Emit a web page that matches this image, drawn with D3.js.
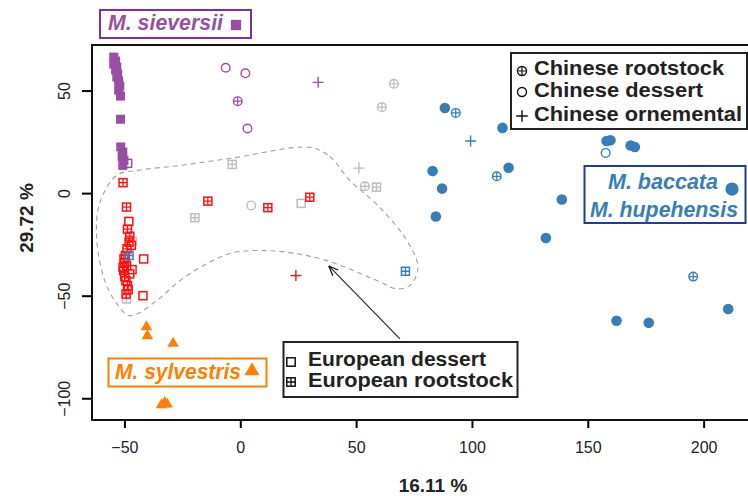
<!DOCTYPE html>
<html>
<head>
<meta charset="utf-8">
<script src="https://cdnjs.cloudflare.com/ajax/libs/d3/7.8.5/d3.min.js"></script>
<style>
  body { margin: 0; background: #fff; }
  svg { display: block; font-family: "Liberation Sans", Arial, sans-serif; }
</style>
</head>
<body>
<div id="chart"></div>
<script>
// PCA coordinates (PC1 16.11 %, PC2 29.72 %)
var xTicks = [-50, 0, 50, 100, 150, 200];
var yTicks = [-100, -50, 0, 50];

// M. sieversii (purple)
var sieversiiWild = [[-54.6,66.3],[-53.8,64.4],[-54.6,62.9],[-53.3,61.4],[-53.8,60.0],[-52.9,58.0],[-53.3,56.6],
  [-52.5,54.6],[-52.0,52.2],[-52.5,50.2],[-51.7,47.3],[-51.7,36.0],[-51.6,22.5],[-50.7,20.0],[-51.0,17.9],[-50.2,16.0],[-50.7,13.5]];
var sieversiiCnDessert = [[-6.3,61.1],[2.2,58.4],[3.1,31.5]];
var sieversiiCnRoot = [[-1.1,44.8]];
var sieversiiCnOrn = [[33.6,54.0]];
var sieversiiEuDessert = [[-48.6,14.5]];

// European cultivars (red)
var euRoot = [[-50.6,5.1],[-49.1,-6.8],[-48.7,-17.6],[-47.7,-21.0],[-48.0,-23.9],[-48.9,-27.2],[-49.6,-30.4],
  [-50.2,-32.1],[-49.9,-33.7],[-49.1,-35.3],[-50.6,-36.2],[-50.3,-37.8],[-49.9,-40.7],[-48.7,-45.1],[-48.4,-47.1],
  [-49.3,-49.2],[-14.0,-3.9],[11.9,-7.1],[30.0,-2.0]];
var euDessert = [[-48.1,-13.8],[-41.7,-32.1],[-46.7,-37.3],[-47.7,-39.4],[-42.0,-50.0],[-49.4,-42.7],[-47.0,-25.5]];
var euOrn = [[24.0,-40.2]];

// unassigned (grey)
var greyEuRoot = [[-49.1,-51.6],[-19.6,-12.0],[58.8,2.9],[-3.5,14.0]];
var greyEuDessert = [[-46.5,-23.5],[26.3,-5.0]];
var greyCnRoot = [[53.8,3.3],[66.3,53.3],[61.1,41.9]];
var greyCnDessert = [[4.7,-6.0]];
var greyCnOrn = [[51.2,12.2]];

// M. baccata / M. hupehensis (blue)
var baccataWild = [[88.3,41.5],[113.2,31.8],[83.0,10.8],[87.1,2.2],[84.4,-11.4],[115.8,12.4],[138.8,-3.1],
  [131.9,-21.9],[158.1,25.4],[159.8,25.8],[168.5,23.2],[170.3,22.5],[162.4,-62.2],[176.3,-63.2],[210.6,-56.5]];
var baccataCnRoot = [[93.0,39.1],[110.7,8.2],[195.5,-40.7]];
var baccataCnOrn = [[99.4,25.4]];
var baccataCnDessert = [[157.7,19.6]];
var baccataEuRoot = [[71.3,-38.1],[-48.0,-30.4]];

// M. sylvestris (orange)
var sylvestrisWild = [[-40.5,-65.2],[-40.1,-69.6],[-29.0,-73.3],[-32.6,-102.1],[-31.6,-102.9],[-34.0,-103.3]];

// outline drawn around the European cultivars
var hull = [[30.0,22.3],[38.6,17.9],[47.3,6.2],[60.2,-7.0],[71.9,-23.1],[76.7,-36.3],[73.2,-45.1],[67.1,-46.6],
  [60.2,-43.2],[37.3,-32.9],[21.4,-29.0],[9.7,-28.0],[-3.2,-29.0],[-14.5,-34.4],[-26.1,-42.7],[-36.1,-52.4],
  [-47.7,-59.8],[-53.3,-53.9],[-58.5,-42.7],[-62.0,-21.7],[-60.7,-5.0],[-53.3,8.7],[-44.3,11.1],[-26.1,13.5],[-3.7,17.0]];

var purple = "#984EA3", red = "#FF1010", grey = "#BDBDBD", blue = "#377EB8", orange = "#FF7F00";

var series = [
  {pts: greyEuRoot, shape: "boxplus", color: grey},
  {pts: greyEuDessert, shape: "square", color: grey},
  {pts: greyCnRoot, shape: "circleplus", color: grey},
  {pts: greyCnDessert, shape: "circle", color: grey},
  {pts: greyCnOrn, shape: "plus", color: grey},
  {pts: sieversiiWild, shape: "fsquare", color: purple},
  {pts: sieversiiCnDessert, shape: "circle", color: purple},
  {pts: sieversiiCnRoot, shape: "circleplus", color: purple},
  {pts: sieversiiCnOrn, shape: "plus", color: purple},
  {pts: sieversiiEuDessert, shape: "square", color: purple},
  {pts: euRoot, shape: "boxplus", color: red},
  {pts: euDessert, shape: "square", color: red},
  {pts: euOrn, shape: "plus", color: red},
  {pts: baccataWild, shape: "fcircle", color: blue},
  {pts: baccataCnRoot, shape: "circleplus", color: blue},
  {pts: baccataCnOrn, shape: "plus", color: blue},
  {pts: baccataCnDessert, shape: "circle", color: blue},
  {pts: baccataEuRoot, shape: "boxplus", color: blue},
  {pts: sylvestrisWild, shape: "triangle", color: orange}
];

var width = 748, height = 496;
var plotLeft = 92, plotRight = 775, plotTop = 45, plotBottom = 420;

var x = d3.scaleLinear().domain([-64, 230.8]).range([plotLeft, plotRight]);
var y = d3.scaleLinear().domain([-110.6, 72.2]).range([plotBottom, plotTop]);

var svg = d3.select("#chart").append("svg")
  .attr("width", width)
  .attr("height", height);

svg.append("rect").attr("width", width).attr("height", height).attr("fill", "#fff");

// dashed outline
svg.append("path")
  .datum(hull)
  .attr("d", d3.line().x(function(d){ return x(d[0]); }).y(function(d){ return y(d[1]); }).curve(d3.curveCatmullRomClosed.alpha(0.5)))
  .attr("fill", "none")
  .attr("stroke", "#a0a0a0")
  .attr("stroke-width", 1.1)
  .attr("stroke-dasharray", "5,4");

// one symbol drawer for R-like pch shapes
function drawSymbol(g, shape, color, k) {
  k = k || 1;
  if (shape == "fsquare") {
    g.append("rect").attr("x", -4.5*k).attr("y", -4.5*k).attr("width", 9*k).attr("height", 9*k).attr("fill", color);
  } else if (shape == "square" || shape == "boxplus") {
    g.append("rect").attr("x", -4*k).attr("y", -4*k).attr("width", 8*k).attr("height", 8*k)
      .attr("fill", "none").attr("stroke", color).attr("stroke-width", 1.5);
    if (shape == "boxplus") {
      g.append("path").attr("d", "M" + (-4*k) + ",0H" + (4*k) + "M0," + (-4*k) + "V" + (4*k))
        .attr("stroke", color).attr("stroke-width", 1.3);
    }
  } else if (shape == "circle" || shape == "circleplus") {
    g.append("circle").attr("r", 4.3*k).attr("fill", "none").attr("stroke", color).attr("stroke-width", 1.4);
    if (shape == "circleplus") {
      g.append("path").attr("d", "M" + (-4.3*k) + ",0H" + (4.3*k) + "M0," + (-4.3*k) + "V" + (4.3*k))
        .attr("stroke", color).attr("stroke-width", 1.2);
    }
  } else if (shape == "plus") {
    g.append("path").attr("d", "M" + (-5.5*k) + ",0H" + (5.5*k) + "M0," + (-5.5*k) + "V" + (5.5*k))
      .attr("stroke", color).attr("stroke-width", 1.4);
  } else if (shape == "fcircle") {
    g.append("circle").attr("r", 5.3*k).attr("fill", color);
  } else if (shape == "triangle") {
    g.append("path").attr("d", d3.symbol().type(d3.symbolTriangle).size(58*k*k)()).attr("fill", color);
  }
}

var pointLayer = svg.append("g");
series.forEach(function(s) {
  pointLayer.selectAll(null)
    .data(s.pts)
    .enter()
    .append("g")
    .attr("transform", function(d){ return "translate(" + x(d[0]) + "," + y(d[1]) + ")"; })
    .each(function(){ drawSymbol(d3.select(this), s.shape, s.color); });
});

// axes (R style: box + ticks only at labelled values)
var xAxis = svg.append("g")
  .attr("transform", "translate(0," + plotBottom + ")")
  .call(d3.axisBottom(x).tickValues(xTicks).tickSize(8).tickFormat(d3.format("d")));
xAxis.select(".domain").remove();
xAxis.selectAll("line").attr("stroke-width", 2);
xAxis.selectAll("text").attr("y", 33).attr("dy", 0).style("font-size", "16px").attr("fill", "#222")
  .style("font-family", "'Liberation Sans', Arial, sans-serif");

var yAxis = svg.append("g")
  .attr("transform", "translate(" + plotLeft + ",0)")
  .call(d3.axisLeft(y).tickValues(yTicks).tickSize(10).tickFormat(d3.format("d")));
yAxis.select(".domain").remove();
yAxis.selectAll("line").attr("stroke-width", 2);
yAxis.selectAll("text")
  .attr("x", 0).attr("y", -22).attr("dy", 0)
  .attr("transform", "rotate(-90)")
  .style("text-anchor", "middle")
  .style("font-size", "16px").attr("fill", "#222")
  .style("font-family", "'Liberation Sans', Arial, sans-serif");

svg.append("rect")
  .attr("x", plotLeft).attr("y", plotTop)
  .attr("width", plotRight - plotLeft).attr("height", plotBottom - plotTop)
  .attr("fill", "none").attr("stroke", "#111").attr("stroke-width", 2);

svg.append("text")
  .attr("x", 433).attr("y", 492)
  .attr("text-anchor", "middle")
  .style("font-weight", "bold").style("font-size", "19px").attr("fill", "#222")
  .text("16.11 %");

svg.append("text")
  .attr("transform", "translate(33,218) rotate(-90)")
  .attr("text-anchor", "middle")
  .style("font-weight", "bold").style("font-size", "19px").attr("fill", "#222")
  .text("29.72 %");

// arrow from the European legend to the outline
svg.append("defs").append("marker")
  .attr("id", "head")
  .attr("viewBox", "0 0 10 10")
  .attr("refX", 10).attr("refY", 5)
  .attr("markerWidth", 9).attr("markerHeight", 9)
  .attr("orient", "auto")
  .append("path")
  .attr("d", "M0,1L10,5L0,9")
  .attr("fill", "none").attr("stroke", "#111").attr("stroke-width", 1.3);

svg.append("line")
  .attr("x1", x(68.9)).attr("y1", y(-71.1))
  .attr("x2", x(38.2)).attr("y2", y(-35.5))
  .attr("stroke", "#222").attr("stroke-width", 1.1)
  .attr("marker-end", "url(#head)");

// legend boxes
function legendBox(bx, by, bw, bh, rows) {
  var g = svg.append("g");
  g.append("rect").attr("x", bx).attr("y", by).attr("width", bw).attr("height", bh)
    .attr("fill", "#fff").attr("stroke", "#222").attr("stroke-width", 2);
  rows.forEach(function(r) {
    var m = g.append("g").attr("transform", "translate(" + r.mx + "," + r.my + ")");
    drawSymbol(m, r.shape, "#111", 1.05);
    g.append("text").attr("x", r.tx).attr("y", r.ty)
      .attr("textLength", r.w).attr("lengthAdjust", "spacingAndGlyphs")
      .style("font-weight", "bold").style("font-size", "19.5px").attr("fill", "#222")
      .text(r.label);
  });
}

legendBox(511, 53, 236, 76, [
  {shape: "circleplus", label: "Chinese rootstock", mx: 522, my: 71, tx: 534, ty: 75, w: 190},
  {shape: "circle", label: "Chinese dessert", mx: 522, my: 92, tx: 534, ty: 97, w: 169},
  {shape: "plus", label: "Chinese ornemental", mx: 522, my: 116, tx: 534, ty: 121, w: 208}
]);

legendBox(283.5, 342, 234, 55, [
  {shape: "square", label: "European dessert", mx: 291, my: 362, tx: 308, ty: 366, w: 178},
  {shape: "boxplus", label: "European rootstock", mx: 291, my: 382, tx: 308, ty: 387, w: 205}
]);

// species labels
function speciesLabel(bx, by, bw, bh, border, color, lines, shape, mx, my, ms) {
  var g = svg.append("g");
  g.append("rect").attr("x", bx).attr("y", by).attr("width", bw).attr("height", bh)
    .attr("fill", "#fff").attr("stroke", border).attr("stroke-width", 2);
  lines.forEach(function(l) {
    g.append("text").attr("x", l.x).attr("y", l.y)
      .attr("textLength", l.w).attr("lengthAdjust", "spacingAndGlyphs")
      .style("font-weight", "bold").style("font-style", "italic").style("font-size", "21.5px")
      .attr("fill", color).text(l.t);
  });
  drawSymbol(g.append("g").attr("transform", "translate(" + mx + "," + my + ")"), shape, color, ms);
}

speciesLabel(100, 10, 151, 28, "#7B2FA3", purple, [{t: "M. sieversii", x: 108, y: 29.5, w: 115}], "fsquare", 236, 25, 1.15);
speciesLabel(108.5, 358.5, 158, 28, orange, orange, [{t: "M. sylvestris", x: 115, y: 378.5, w: 126}], "triangle", 252, 371, 1.3);
speciesLabel(584.5, 166, 161, 57, "#1F3C96", blue,
  [{t: "M. baccata", x: 608, y: 188.5, w: 110}, {t: "M. hupehensis", x: 590, y: 217, w: 148}], "fcircle", 732, 189, 1.25);
</script>
</body>
</html>
